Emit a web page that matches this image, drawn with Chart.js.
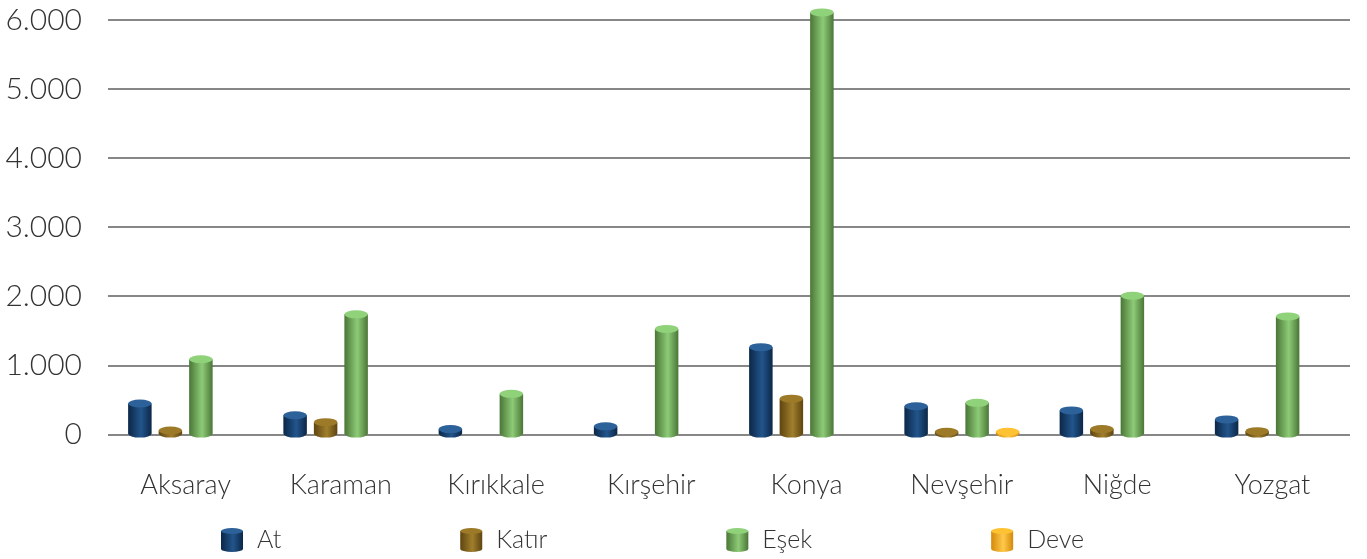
<!DOCTYPE html>
<html>
<head>
<meta charset="utf-8">
<script src="https://cdn.jsdelivr.net/npm/chart.js@4.4.1/dist/chart.umd.min.js"></script>
<style>
  html, body { margin: 0; padding: 0; background: #ffffff; }
  #wrap { width: 1367px; height: 559px; position: relative; }
</style>
</head>
<body>
<div id="wrap"><canvas id="grafik"></canvas></div>
<script>
// iller
var iller = ['Aksaray', 'Karaman', 'Kırıkkale', 'Kırşehir', 'Konya', 'Nevşehir', 'Niğde', 'Yozgat'];

// hayvan sayilari
var atSayisi    = [450, 280, 80, 120, 1265, 410, 350, 220];
var katirSayisi = [60, 180, 0, 0, 520, 40, 80, 50];
var esekSayisi  = [1090, 1740, 590, 1530, 6110, 460, 2010, 1710];
var deveSayisi  = [0, 0, 0, 0, 0, 40, 0, 0];

var seriAdlari = ['At', 'Katır', 'Eşek', 'Deve'];
var eksenEtiketleri = [0, 1000, 2000, 3000, 4000, 5000, 6000];

// silindir renkleri: kenar, parlak orta, ust elips
var renkler = [
    { kenar: '#0b2747', orta: '#22558c', ust: '#2d6199' },
    { kenar: '#5e4410', orta: '#a07f2c', ust: '#9c7a28' },
    { kenar: '#4a7636', orta: '#8dcb77', ust: '#8fd27a' },
    { kenar: '#d48a0a', orta: '#ffc94a', ust: '#ffc232' }
];

var yaziTipi = "Lato, 'Open Sans', sans-serif";

function fmt(v) {
    return v.toLocaleString('tr-TR');
}

var silindirEklentisi = {
    id: 'silindir',
    beforeDatasetDraw: function (chart, args) {
        var ctx = chart.ctx;
        var meta = args.meta;
        var r = renkler[args.index];
        ctx.save();
        meta.data.forEach(function (bar, i) {
            var deger = chart.data.datasets[args.index].data[i];
            if (!deger) return;
            var p = bar.getProps(['x', 'y', 'base', 'width'], true);
            var sol = p.x - p.width / 2;
            var sag = p.x + p.width / 2;
            var ry = 4;
            var g = ctx.createLinearGradient(sol, 0, sag, 0);
            g.addColorStop(0, r.kenar);
            g.addColorStop(0.55, r.orta);
            g.addColorStop(1, r.kenar);
            ctx.fillStyle = g;
            ctx.beginPath();
            ctx.moveTo(sol, p.y);
            ctx.lineTo(sol, p.base);
            ctx.ellipse(p.x, p.base, p.width / 2, ry, 0, Math.PI, 0, true);
            ctx.lineTo(sag, p.y);
            ctx.closePath();
            ctx.fill();
            ctx.fillStyle = r.ust;
            ctx.beginPath();
            ctx.ellipse(p.x, p.y, p.width / 2, ry, 0, 0, Math.PI * 2);
            ctx.fill();
        });
        ctx.restore();
        return false;
    }
};

var lejantEklentisi = {
    id: 'lejant',
    afterDraw: function (chart) {
        var ctx = chart.ctx;
        ctx.save();
        ctx.font = '300 25px ' + yaziTipi;
        ctx.textBaseline = 'middle';
        var x = 221;
        var y = 540;
        seriAdlari.forEach(function (ad, i) {
            var r = renkler[i];
            var g = ctx.createLinearGradient(x, 0, x + 22, 0);
            g.addColorStop(0, r.kenar);
            g.addColorStop(0.55, r.orta);
            g.addColorStop(1, r.kenar);
            ctx.fillStyle = g;
            ctx.beginPath();
            ctx.moveTo(x, y - 9);
            ctx.lineTo(x, y + 9);
            ctx.ellipse(x + 11, y + 9, 11, 3, 0, Math.PI, 0, true);
            ctx.lineTo(x + 22, y - 9);
            ctx.closePath();
            ctx.fill();
            ctx.fillStyle = r.ust;
            ctx.beginPath();
            ctx.ellipse(x + 11, y - 9, 11, 3, 0, 0, Math.PI * 2);
            ctx.fill();
            ctx.fillStyle = '#333333';
            ctx.fillText(ad, x + 36, y);
            x += 36 + ctx.measureText(ad).width + 179;
        });
        ctx.restore();
    }
};

var veriler = [atSayisi, katirSayisi, esekSayisi, deveSayisi];

new Chart(document.getElementById('grafik'), {
    type: 'bar',
    data: {
        labels: iller,
        datasets: veriler.map(function (d, i) {
            return {
                label: seriAdlari[i],
                data: d,
                backgroundColor: renkler[i].orta,
                categoryPercentage: 0.786,
                barPercentage: 0.77
            };
        })
    },
    options: {
        responsive: true,
        maintainAspectRatio: false,
        animation: false,
        layout: { padding: { top: 0, right: 17, bottom: 32, left: 0 } },
        plugins: {
            legend: { display: false },
            tooltip: { enabled: false }
        },
        scales: {
            x: {
                grid: { display: false },
                border: { display: false },
                ticks: {
                    color: '#333333',
                    padding: 26,
                    font: { family: yaziTipi, size: 27, weight: 300 }
                }
            },
            y: {
                min: 0,
                max: 6000,
                afterFit: function (s) {
                    s.width = 108;
                    s.paddingTop = 20;
                    s.paddingBottom = 0;
                },
                afterBuildTicks: function (s) {
                    s.ticks = eksenEtiketleri.map(function (v) { return { value: v }; });
                },
                border: { display: false },
                grid: { color: '#878787', lineWidth: 2, drawTicks: false },
                ticks: {
                    color: '#333333',
                    padding: 26,
                    font: { family: yaziTipi, size: 30, weight: 300 },
                    callback: function (v) { return fmt(v); }
                }
            }
        }
    },
    plugins: [silindirEklentisi, lejantEklentisi]
});
</script>
</body>
</html>
